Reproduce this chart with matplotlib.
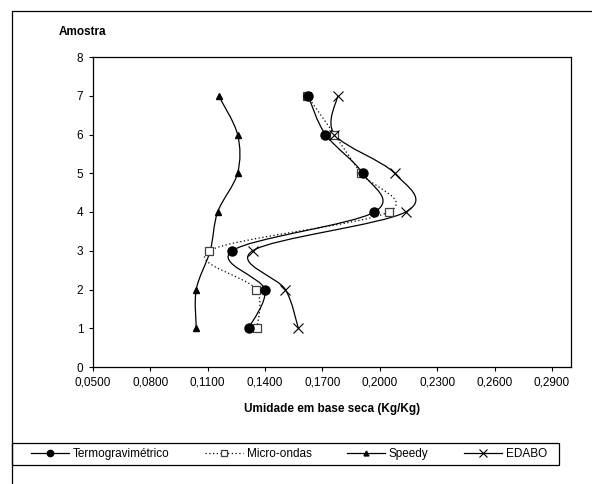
import matplotlib
matplotlib.use("Agg")
import matplotlib.pyplot as plt
from matplotlib.path import Path
from matplotlib.patches import PathPatch, Rectangle
from matplotlib.lines import Line2D
import numpy as np

# sample number (y) and moisture, dry basis (x)
amostra = [1, 2, 3, 4, 5, 6, 7]
termo = [0.1314, 0.1398, 0.1228, 0.1972, 0.1910, 0.1716, 0.1625]
micro = [0.1358, 0.1354, 0.1108, 0.2046, 0.1900, 0.1763, 0.1620]
speedy = [0.1040, 0.1040, 0.1113, 0.1152, 0.1256, 0.1256, 0.1157]
edabo = [0.1574, 0.1506, 0.1335, 0.2135, 0.2077, 0.1763, 0.1780]

xticks = [0.05, 0.08, 0.11, 0.14, 0.17, 0.20, 0.23, 0.26, 0.29]
xticklabels = ["0,0500", "0,0800", "0,1100", "0,1400", "0,1700",
               "0,2000", "0,2300", "0,2600", "0,2900"]
yticks = [0, 1, 2, 3, 4, 5, 6, 7, 8]

plt.rcParams['font.family'] = ['Liberation Sans', 'DejaVu Sans']
FS = 8.5


def smooth_path(x, y):
    # excel-like smoothed line (catmull-rom as cubic bezier)
    pts = np.column_stack([x, y]).astype(float)
    n = len(pts)
    verts = [pts[0]]
    codes = [Path.MOVETO]
    for i in range(n - 1):
        p0 = pts[i - 1] if i > 0 else pts[i]
        p1 = pts[i]
        p2 = pts[i + 1]
        p3 = pts[i + 2] if i + 2 < n else pts[i + 1]
        verts += [p1 + (p2 - p0) / 6, p2 - (p3 - p1) / 6, p2]
        codes += [Path.CURVE4] * 3
    return Path(verts, codes)


fig = plt.figure(figsize=(5.92, 4.84), dpi=100)
ax = fig.add_axes([93 / 592, 1 - 367 / 484, 478 / 592, 310 / 484])

series = [
    (termo, "Termogravimétrico", "-", 5, dict(marker="o", ms=6.5, mfc="black", mec="black")),
    (micro, "Micro-ondas", (0, (1, 2)), 4, dict(marker="s", ms=5.8, mfc="white", mec="#404040", mew=0.9)),
    (speedy, "Speedy", "-", 3, dict(marker="^", ms=5, mfc="black", mec="black")),
    (edabo, "EDABO", "-", 4.5, dict(marker="x", ms=7.5, mec="black", mew=0.8)),
]

handles = []
for xs, name, ls, z, mk in series:
    ax.add_patch(PathPatch(smooth_path(xs, amostra), fill=False, lw=0.9,
                           ls=ls, edgecolor="black"))
    ax.plot(xs, amostra, ls="none", zorder=z, **mk)
    handles.append(Line2D([], [], color="black", lw=0.9, ls=ls, label=name, **mk))

ax.set_xlim(0.05, 0.30)
ax.set_ylim(0, 8)
ax.set_xticks(xticks)
ax.set_xticklabels(xticklabels)
ax.set_yticks(yticks)
ax.tick_params(direction="out", length=3, width=0.8, labelsize=FS, pad=4, colors="black")
for s in ax.spines.values():
    s.set_linewidth(0.9)
    s.set_color("black")

fig.text(83 / 592, 1 - 32 / 484, "Amostra", ha="center", va="center",
         fontsize=FS, fontweight="bold")
fig.text(332 / 592, 1 - 409 / 484, "Umidade em base seca (Kg/Kg)", ha="center",
         va="center", fontsize=FS, fontweight="bold")

# outer chart border (runs off the image) and legend frame
fig.add_artist(Rectangle((12 / 592, -0.5), 1.0, 1.5 - 11 / 484, transform=fig.transFigure,
                         fill=False, lw=0.9, edgecolor="black"))
fig.add_artist(Rectangle((12 / 592, 1 - 465 / 484), 547 / 592, 22 / 484,
                         transform=fig.transFigure, fill=False, lw=0.9, edgecolor="black"))

fig.legend(handles=handles, loc="center", bbox_to_anchor=(289 / 592, 1 - 454 / 484),
           ncol=4, frameon=False, fontsize=FS, handlelength=3.2, handletextpad=0.3,
           columnspacing=3.05, borderpad=0, borderaxespad=0, markerscale=0.7)

fig.savefig("out.png", dpi=100)
